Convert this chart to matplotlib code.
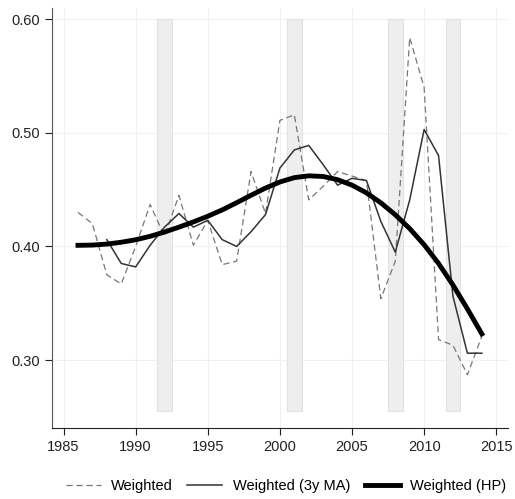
import numpy as np
import matplotlib
matplotlib.use('Agg')
import matplotlib.pyplot as plt

plt.rcParams['font.family'] = ['Liberation Sans', 'DejaVu Sans']

# 数据
years = list(range(1986, 2015))
weighted = [0.430, 0.420, 0.375, 0.367, 0.400, 0.437, 0.409, 0.445, 0.401, 0.423,
            0.384, 0.387, 0.466, 0.429, 0.511, 0.516, 0.441, 0.453, 0.466, 0.462,
            0.458, 0.354, 0.387, 0.584, 0.540, 0.318, 0.313, 0.287, 0.321]
ma_years = list(range(1988, 2015))
weighted_ma = [0.406, 0.385, 0.382, 0.401, 0.417, 0.429, 0.417, 0.423, 0.406, 0.400,
               0.413, 0.428, 0.469, 0.485, 0.489, 0.472, 0.454, 0.460, 0.458, 0.422,
               0.395, 0.441, 0.503, 0.480, 0.356, 0.306, 0.306]
weighted_hp = [0.4010, 0.4012, 0.4021, 0.4037, 0.4059, 0.4089, 0.4127, 0.4170, 0.4216,
               0.4266, 0.4322, 0.4385, 0.4451, 0.4514, 0.4568, 0.4606, 0.4622, 0.4616,
               0.4588, 0.4540, 0.4472, 0.4384, 0.4279, 0.4157, 0.4015, 0.3850, 0.3660,
               0.3450, 0.3230]
recessions = [1992, 2001, 2008, 2012]

fig = plt.figure(figsize=(5.15, 4.99), dpi=100)
ax = fig.add_axes([0.101, 0.142, 0.885, 0.842])

# 阴影区
for r in recessions:
    ax.fill_between([r - 0.5, r + 0.5], 0.255, 0.60, color='#eeeeee',
                    edgecolor='#e2e2e2', linewidth=0.8, zorder=1)

ax.plot(years, weighted, color='#777777', linestyle=(0, (5, 3)), linewidth=0.9,
        label='Weighted', zorder=3)
ax.plot(ma_years, weighted_ma, color='#333333', linewidth=1.1,
        label='Weighted (3y MA)', zorder=4)
ax.plot(years, weighted_hp, color='black', linewidth=3.5, solid_joinstyle='round',
        label='Weighted (HP)', zorder=5)

ax.set_xlim(1984.2, 2015.8)
ax.set_ylim(0.240, 0.610)
ax.set_xticks([1985, 1990, 1995, 2000, 2005, 2010, 2015])
ax.set_yticks([0.30, 0.40, 0.50, 0.60])
ax.set_yticklabels(['0.30', '0.40', '0.50', '0.60'])
ax.grid(True, color='#f0f0f0', linewidth=0.8, zorder=0)
ax.set_axisbelow(True)

for s in ['top', 'right']:
    ax.spines[s].set_visible(False)
ax.spines['left'].set_color('#555555')
ax.spines['bottom'].set_color('#222222')
ax.tick_params(labelsize=10.5, colors='#222222', length=5)

fig.legend(loc='lower center', bbox_to_anchor=(0.555, -0.014), ncol=3, frameon=False,
           fontsize=10.5, handlelength=2.4, columnspacing=1.0, handletextpad=0.7)

plt.savefig('out.png', dpi=100)
